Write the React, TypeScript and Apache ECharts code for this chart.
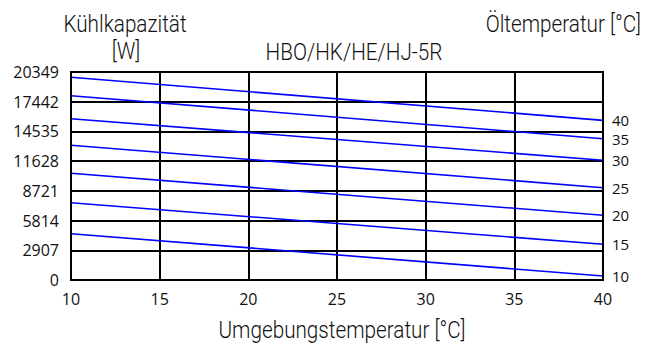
import React, { useEffect, useRef } from "react";
import * as echarts from "echarts";

// Ambient temperature axis (°C)
const ambientTemps = [10, 40];
// Oil temperature curves (°C), top to bottom
const oilTemps = ["40", "35", "30", "25", "20", "15", "10"];
// Cooling capacity in W at ambient 10 °C and 40 °C for each oil temperature
const capacityAt10 = [19830, 18030, 15780, 13180, 10440, 7560, 4530];
const capacityAt40 = [15620, 13820, 11710, 9030, 6330, 3490, 390];
// Left axis ticks
const capMax = 20349;
const capStep = 2907;

const labelFont = "'Open Sans', 'Noto Sans', sans-serif";
const titleFont = "Roboto, 'Noto Sans', sans-serif";

// Condensed-looking heading text
const titleText = (text: string, x: number, y: number, align: string) => ({
  type: "text",
  x,
  y,
  scaleX: 0.9,
  style: {
    text,
    fontFamily: titleFont,
    fontSize: 23,
    fontWeight: 300,
    fill: "#111",
    align,
    verticalAlign: "middle",
  },
});

export default function App() {
  const ref = useRef<HTMLDivElement>(null);

  useEffect(() => {
    if (!ref.current) return;
    const chart = echarts.init(ref.current, undefined, { renderer: "svg" });

    const series = oilTemps.map((name, i) => ({
      name,
      type: "line",
      data: [
        [ambientTemps[0], capacityAt10[i]],
        [ambientTemps[1], capacityAt40[i]],
      ],
      showSymbol: false,
      lineStyle: { color: "#0000ff", width: 1.6 },
      endLabel: {
        show: true,
        formatter: name,
        distance: 9,
        color: "#111",
        fontFamily: labelFont,
        fontSize: 15,
      },
      z: 3,
    }));

    chart.setOption({
      animation: false,
      backgroundColor: "#ffffff",
      grid: { left: 71, right: 45, top: 72, bottom: 66, containLabel: false },
      xAxis: {
        type: "value",
        min: 10,
        max: 40,
        interval: 5,
        axisLine: { show: true, lineStyle: { color: "#000", width: 2 } },
        axisTick: { show: false },
        axisLabel: { color: "#111", fontFamily: labelFont, fontSize: 16, margin: 11 },
        splitLine: { show: true, lineStyle: { color: "#000", width: 2 } },
      },
      yAxis: {
        type: "value",
        min: 0,
        max: capMax,
        interval: capStep,
        axisLine: { show: true, lineStyle: { color: "#000", width: 2 } },
        axisTick: { show: false },
        axisLabel: {
          color: "#111",
          fontFamily: labelFont,
          fontSize: 16,
          margin: 12,
          formatter: (v: number) => String(v),
        },
        splitLine: { show: true, lineStyle: { color: "#000", width: 2 } },
      },
      graphic: [
        {
          type: "rect",
          shape: { x: 71, y: 72, width: 532, height: 208 },
          style: { fill: "none", stroke: "#000", lineWidth: 2 },
          z: 10,
          silent: true,
        },
        titleText("Kühlkapazität", 125, 24, "center"),
        titleText("[W]", 126, 51, "center"),
        titleText("HBO/HK/HE/HJ-5R", 354, 52, "center"),
        titleText("Öltemperatur [°C]", 641, 24, "right"),
        titleText("Umgebungstemperatur [°C]", 342, 330, "center"),
      ],
      series,
    });

    return () => chart.dispose();
  }, []);

  return <div ref={ref} style={{ width: 648, height: 346, position: "absolute", left: 0, top: 0 }} />;
}
